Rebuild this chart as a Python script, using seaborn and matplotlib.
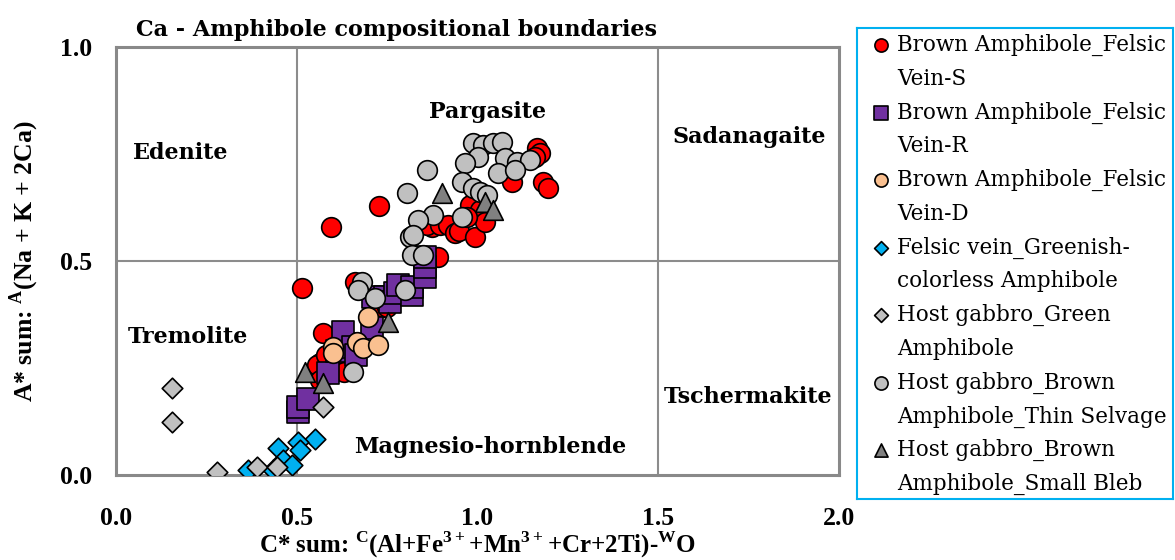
import matplotlib
matplotlib.use("Agg")
import matplotlib.pyplot as plt
import seaborn as sns
import pandas as pd

# ---------------- data ----------------
series_names = [
    "Brown Amphibole_Felsic\nVein-S",
    "Brown Amphibole_Felsic\nVein-R",
    "Brown Amphibole_Felsic\nVein-D",
    "Felsic vein_Greenish-\ncolorless Amphibole",
    "Host gabbro_Green\nAmphibole",
    "Host gabbro_Brown\nAmphibole_Thin Selvage",
    "Host gabbro_Brown\nAmphibole_Small Bleb",
]

vein_s_x = [0.515, 0.595, 0.727, 1.165, 1.173, 1.159, 1.181, 1.195, 1.095,
            0.874, 0.860, 0.896, 0.918, 0.938, 0.950, 0.993, 0.979, 1.007,
            1.021, 0.971, 0.891, 0.840, 0.661, 0.573, 0.564, 0.556, 0.628,
            0.655, 0.739, 0.750, 0.564, 0.600, 0.630, 0.580]
vein_s_y = [0.437, 0.579, 0.628, 0.764, 0.752, 0.743, 0.685, 0.670, 0.685,
            0.579, 0.584, 0.584, 0.584, 0.565, 0.570, 0.556, 0.631, 0.619,
            0.591, 0.603, 0.509, 0.512, 0.451, 0.332, 0.262, 0.257, 0.252,
            0.311, 0.393, 0.393, 0.222, 0.240, 0.240, 0.280]

vein_r_x = [0.503, 0.503, 0.531, 0.587, 0.610, 0.628, 0.655, 0.665, 0.708,
            0.711, 0.744, 0.758, 0.772, 0.780, 0.819, 0.819, 0.855, 0.855, 0.855]
vein_r_y = [0.147, 0.159, 0.178, 0.238, 0.290, 0.334, 0.300, 0.280, 0.343,
            0.416, 0.416, 0.404, 0.425, 0.444, 0.420, 0.439, 0.463, 0.486, 0.509]

vein_d_x = [0.697, 0.600, 0.600, 0.666, 0.683, 0.725]
vein_d_y = [0.369, 0.299, 0.285, 0.311, 0.297, 0.304]

greenish_x = [0.550, 0.503, 0.509, 0.448, 0.462, 0.487, 0.434, 0.365]
greenish_y = [0.084, 0.077, 0.058, 0.063, 0.035, 0.023, 0.012, 0.012]

green_x = [0.155, 0.155, 0.279, 0.390, 0.445, 0.573]
green_y = [0.203, 0.124, 0.007, 0.019, 0.019, 0.159]

selvage_x = [0.988, 1.015, 1.043, 1.068, 1.001, 0.965, 1.076, 1.109, 1.145,
             1.057, 1.104, 0.860, 0.957, 0.988, 1.007, 1.026, 0.877, 0.957,
             0.805, 0.835, 0.813, 0.822, 0.819, 0.849, 0.680, 0.669, 0.716,
             0.799, 0.656]
selvage_y = [0.776, 0.772, 0.776, 0.778, 0.743, 0.729, 0.741, 0.731, 0.736,
             0.706, 0.713, 0.713, 0.685, 0.670, 0.661, 0.654, 0.607, 0.603,
             0.659, 0.596, 0.556, 0.561, 0.514, 0.514, 0.451, 0.432, 0.413,
             0.432, 0.241]

bleb_x = [0.902, 1.021, 1.043, 0.752, 0.523, 0.573]
bleb_y = [0.659, 0.638, 0.619, 0.357, 0.241, 0.215]

region_labels = ["Edenite", "Pargasite", "Sadanagaite", "Tremolite",
                 "Tschermakite", "Magnesio-hornblende"]
x_ticks = [0.0, 0.5, 1.0, 1.5, 2.0]
y_ticks = [0.0, 0.5, 1.0]

# ---------------- style ----------------
sns.set_theme(style="white")
plt.rcParams["font.family"] = ["DejaVu Serif", "DejaVu Sans"]
plt.rcParams["text.color"] = "black"
plt.rcParams["axes.labelcolor"] = "black"
plt.rcParams["xtick.color"] = "black"
plt.rcParams["ytick.color"] = "black"
plt.rcParams["mathtext.fontset"] = "custom"
plt.rcParams["mathtext.rm"] = "Liberation Serif:bold"
plt.rcParams["mathtext.bf"] = "Liberation Serif:bold"

series = [
    (vein_s_x, vein_s_y, "o", "#FF0000", 200),
    (vein_r_x, vein_r_y, "s", "#7030A0", 230),
    (vein_d_x, vein_d_y, "o", "#FAC090", 200),
    (greenish_x, greenish_y, "D", "#00B0F0", 110),
    (green_x, green_y, "D", "#C0C0C0", 110),
    (selvage_x, selvage_y, "o", "#C0C0C0", 200),
    (bleb_x, bleb_y, "^", "#808080", 200),
]

fig = plt.figure(figsize=(11.75, 5.6), dpi=100)
ax = fig.add_axes([116 / 1175, 1 - 475 / 560, (839 - 116) / 1175, (475 - 47) / 560])

grid_c = "#8C8C8C"
ax.axvline(0.5, color=grid_c, lw=1.5, zorder=0)
ax.axvline(1.5, color=grid_c, lw=1.5, zorder=0)
ax.axhline(0.5, color=grid_c, lw=1.5, zorder=0)

for i, (xs, ys, mk, col, sz) in enumerate(series):
    df = pd.DataFrame({"x": xs, "y": ys})
    sns.scatterplot(data=df, x="x", y="y", ax=ax, marker=mk, color=col, s=sz,
                    edgecolor="black", linewidth=1.2, zorder=3 + i, legend=False)

ax.set_xlim(0, 2)
ax.set_ylim(0, 1)
for sp in ax.spines.values():
    sp.set_color("#898989")
    sp.set_linewidth(2.2)
ax.set_xticks(x_ticks)
ax.set_yticks(y_ticks)
ax.set_xticklabels([f"{v:.1f}" for v in x_ticks])
ax.set_yticklabels([f"{v:.1f}" for v in y_ticks])
ax.tick_params(axis="both", direction="out", length=6, width=1.5, color="#898989",
               labelcolor="black", labelsize=18.5, labelfontfamily="Liberation Serif")
ax.tick_params(axis="x", pad=17)
ax.tick_params(axis="y", pad=11)

ax.set_xlabel(r"C* sum: $^{\mathrm{C}}$(Al+Fe$^{\mathrm{3+}}$+Mn$^{\mathrm{3+}}$+Cr+2Ti)-$^{\mathrm{W}}$O",
              family="Liberation Serif", fontweight="bold", fontsize=18)
ax.set_ylabel(r"A* sum: $^{\mathrm{A}}$(Na + K + 2Ca)",
              family="Liberation Serif", fontweight="bold", fontsize=18.5)
ax.xaxis.set_label_coords(0.5, -0.127)
ax.yaxis.set_label_coords(-0.104, 0.5)

fig.text(136 / 1175, 1 - 30 / 560, "Ca - Amphibole compositional boundaries",
         fontsize=16, fontweight="bold", ha="left", va="center")

region_pos = [(0.18, 0.752), (1.029, 0.848), (1.751, 0.79), (0.199, 0.322),
              (1.748, 0.182), (1.035, 0.065)]
for lab, (px, py) in zip(region_labels, region_pos):
    ax.text(px, py, lab, fontsize=16, fontweight="bold", ha="center", va="center", zorder=20)

# ---------------- legend (manual box) ----------------
lax = fig.add_axes([857 / 1175, 1 - 499 / 560, (1173 - 857) / 1175, (499 - 28) / 560])
lax.set_xlim(857, 1173)
lax.set_ylim(499, 28)
lax.set_xticks([])
lax.set_yticks([])
for sp in lax.spines.values():
    sp.set_color("#00B0F0")
    sp.set_linewidth(1.5)
for i, (name, (xs, ys, mk, col, sz)) in enumerate(zip(series_names, series)):
    yy = 45 + i * 67.5
    lax.scatter([881], [yy], marker=mk, s=sz * 0.45, color=col, edgecolor="black",
                linewidth=1.2)
    l1, l2 = name.split("\n")
    lax.text(897, yy, l1, fontsize=15.5, ha="left", va="center")
    lax.text(897, yy + 34, l2, fontsize=15.5, ha="left", va="center")

fig.canvas.draw()
for lab in ax.get_xticklabels() + ax.get_yticklabels():
    lab.set_fontweight("bold")

fig.savefig("out.png", dpi=100)
